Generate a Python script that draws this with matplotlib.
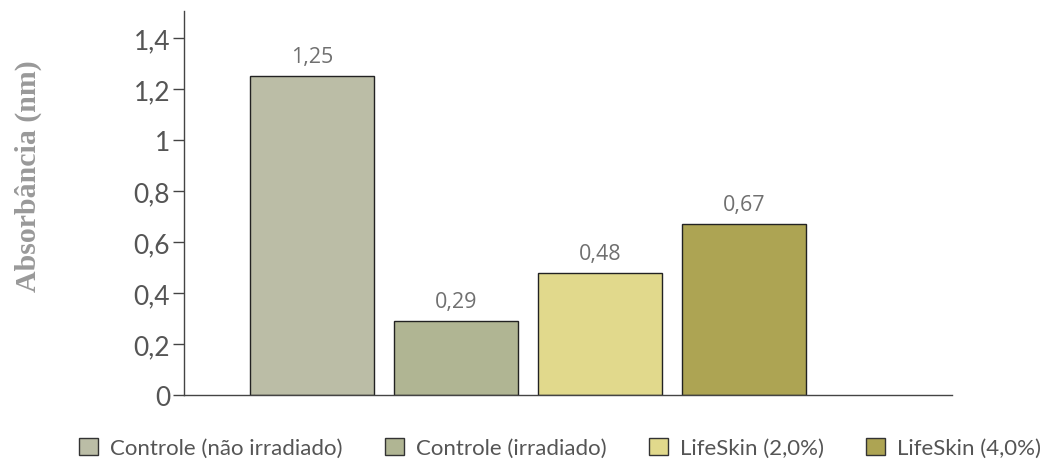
import numpy as np
import matplotlib
matplotlib.use('Agg')
import matplotlib.pyplot as plt
from matplotlib.patches import Patch

# data
categories = ['Controle (não irradiado)', 'Controle (irradiado)', 'LifeSkin (2,0%)', 'LifeSkin (4,0%)']
values = [1.25, 0.29, 0.48, 0.67]
value_labels = ['1,25', '0,29', '0,48', '0,67']
colors = ['#bbbda6', '#b0b593', '#e1d98c', '#ada453']
yticks = [0, 0.2, 0.4, 0.6, 0.8, 1.0, 1.2, 1.4]
ytick_labels = ['0', '0,2', '0,4', '0,6', '0,8', '1', '1,2', '1,4']

plt.rcParams['font.family'] = ['Lato', 'DejaVu Sans']

fig = plt.figure(figsize=(10.43, 4.6), dpi=100)
ax = fig.add_axes([0.1764, 0.139, 0.7364, 0.835])

x = np.arange(len(values))
bars = ax.bar(x, values, width=0.86, color=colors, edgecolor='#222222', linewidth=1.0)

for xi, v, lab in zip(x, values, value_labels):
    ax.text(xi, v + 0.035, lab, ha='center', va='bottom', fontsize=15.5,
            color='#707070', family='Open Sans')

ax.set_xlim(-0.889, 4.444)
ax.set_ylim(0, 1.506)
ax.set_xticks([])
ax.set_yticks(yticks)
ax.set_yticklabels(ytick_labels, fontsize=19, color='#555555')
ax.tick_params(axis='y', direction='out', length=8, width=1, color='#444444', pad=2)

for s in ['top', 'right']:
    ax.spines[s].set_visible(False)
for s in ['left', 'bottom']:
    ax.spines[s].set_color('#444444')
    ax.spines[s].set_linewidth(1)

fig.text(28 / 1043, 1 - 176 / 460, 'Absorbância (nm)', rotation=90, ha='center', va='center',
         fontsize=21.5, fontweight='bold', color='#999999', family='Liberation Serif')

handles = [Patch(facecolor=c, edgecolor='#333333', linewidth=1) for c in colors]
fig.legend(handles, categories, loc='lower center', bbox_to_anchor=(0.537, -0.042), ncol=4,
           frameon=False, fontsize=16, handlelength=0.85, handleheight=0.85,
           handletextpad=0.55, columnspacing=1.9, labelcolor='#555555')

fig.savefig('out.png', dpi=100)
